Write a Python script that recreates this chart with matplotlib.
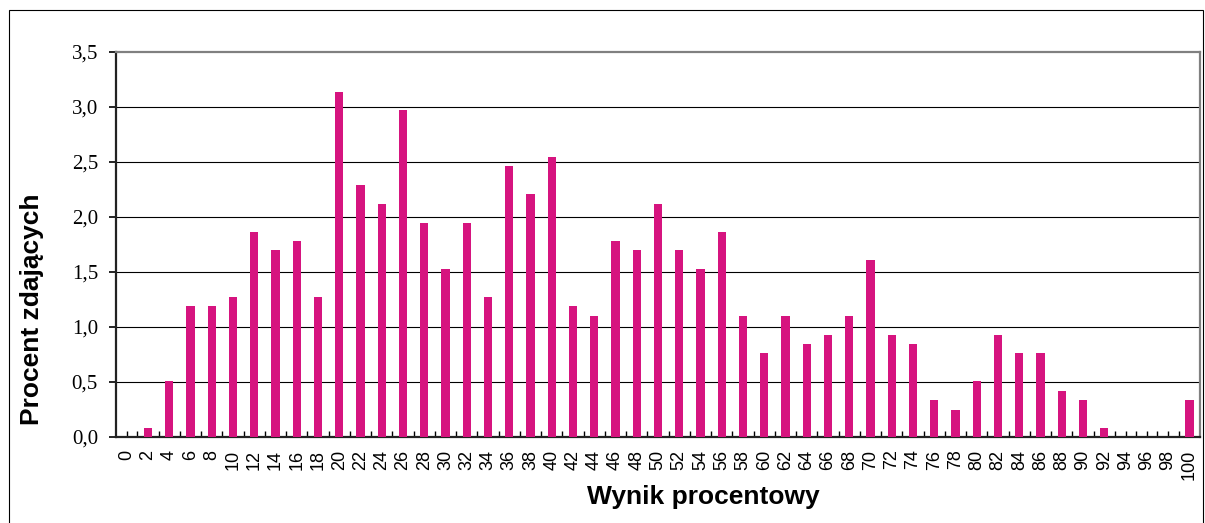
import matplotlib
matplotlib.use("Agg")
import matplotlib.pyplot as plt
from matplotlib.patches import Rectangle

# Score (percent result) categories and percentage of students
scores = [0, 2, 4, 6, 8, 10, 12, 14, 16, 18, 20, 22, 24, 26, 28, 30, 32, 34,
          36, 38, 40, 42, 44, 46, 48, 50, 52, 54, 56, 58, 60, 62, 64, 66, 68,
          70, 72, 74, 76, 78, 80, 82, 84, 86, 88, 90, 92, 94, 96, 98, 100]
percent = [0.0, 0.08, 0.51, 1.19, 1.19, 1.27, 1.86, 1.70, 1.78, 1.27, 3.14,
           2.29, 2.12, 2.97, 1.95, 1.53, 1.95, 1.27, 2.46, 2.21, 2.55, 1.19,
           1.10, 1.78, 1.70, 2.12, 1.70, 1.53, 1.86, 1.10, 0.76, 1.10, 0.85,
           0.93, 1.10, 1.61, 0.93, 0.85, 0.34, 0.25, 0.51, 0.93, 0.76, 0.76,
           0.42, 0.34, 0.08, 0.0, 0.0, 0.0, 0.34]
odd_scores = [s + 1 for s in scores[:-1]]
y_ticks = [0.0, 0.5, 1.0, 1.5, 2.0, 2.5, 3.0, 3.5]
y_labels = ["0,0", "0,5", "1,0", "1,5", "2,0", "2,5", "3,0", "3,5"]

W, H = 1205, 523
fig = plt.figure(figsize=(W / 100, H / 100), dpi=100)

# outer chart border
fig.patches.append(Rectangle((9 / W, -0.05), 1194 / W, 1.05 - 10 / H,
                             transform=fig.transFigure, fill=False,
                             edgecolor="black", linewidth=0.8))

ax = fig.add_axes([116 / W, 1 - 437 / H, (1200 - 116) / W, (437 - 52) / H])
ax.bar(scores, percent, width=0.78, color="#D6147F", zorder=3)

ax.set_xlim(-1, 101)
ax.set_ylim(0, 3.5)

# gridlines
for y in y_ticks[1:-1]:
    ax.axhline(y, color="black", linewidth=0.8, zorder=1)

ax.set_yticks(y_ticks)
ax.set_yticklabels(y_labels, fontfamily="Liberation Serif", fontsize=15)
ax.tick_params(axis="y", direction="out", length=5, width=1.2, pad=8)

ax.set_xticks(scores)
ax.set_xticklabels([str(s) for s in scores], rotation=90,
                   fontfamily="Liberation Sans", fontsize=13)
ax.set_xticks(odd_scores, minor=True)
ax.tick_params(axis="x", which="both", direction="in", length=4, width=1.0,
               pad=9)

for side in ["left", "bottom"]:
    ax.spines[side].set_color("#222222")
    ax.spines[side].set_linewidth(1.6)
for side in ["top", "right"]:
    ax.spines[side].set_color("#808080")
    ax.spines[side].set_linewidth(1.6)

fig.text(32 / W, 1 - 309 / H, "Procent zdających", rotation=90,
         ha="center", va="center", fontfamily="Liberation Sans",
         fontweight="bold", fontsize=19)
fig.text(703 / W, 1 - 497 / H, "Wynik procentowy", ha="center",
         va="center", fontfamily="Liberation Sans", fontweight="bold",
         fontsize=19)

fig.savefig("out.png", dpi=100)
